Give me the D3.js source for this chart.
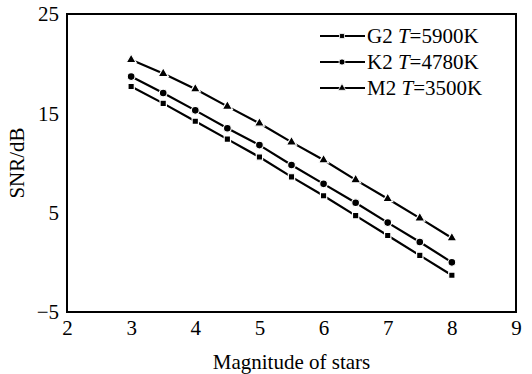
<!DOCTYPE html>
<html>
<head>
<meta charset="utf-8">
<script src="https://cdn.jsdelivr.net/npm/d3@7"></script>
<style>
  body { margin: 0; background: #fff; }
  text { font-family: "Liberation Serif", "DejaVu Serif", serif; fill: #000; }
</style>
</head>
<body>
<svg></svg>
<script>
// data
var magnitudes = [3, 3.5, 4, 4.5, 5, 5.5, 6, 6.5, 7, 7.5, 8];
var g2 = [17.7, 16.0, 14.2, 12.4, 10.6, 8.6, 6.7, 4.7, 2.7, 0.7, -1.3];
var k2 = [18.7, 17.05, 15.3, 13.5, 11.8, 9.8, 7.9, 6.0, 4.0, 2.05, 0.0];
var m2 = [20.4, 19.0, 17.45, 15.7, 14.0, 12.1, 10.3, 8.3, 6.4, 4.45, 2.45];
var seriesNames = ["G2", "K2", "M2"];
var seriesTemps = ["5900K", "4780K", "3500K"];
var xTicks = [2, 3, 4, 5, 6, 7, 8, 9];
var yTicks = [-5, 5, 15, 25];

var svgWidth = 532;
var svgHeight = 374;
var margin = {left: 67, right: 16, top: 14, bottom: 62};
var fontSize = "21px";

var svg = d3.select("svg")
   .attr("width", svgWidth)
   .attr("height", svgHeight);

var x = d3.scaleLinear().domain([2, 9]).range([margin.left, svgWidth - margin.right]);
var y = d3.scaleLinear().domain([-5, 25]).range([svgHeight - margin.bottom, margin.top]);

// frame
svg.append("rect")
   .attr("x", x(2)).attr("y", y(25))
   .attr("width", x(9) - x(2)).attr("height", y(-5) - y(25))
   .attr("fill", "none").attr("stroke", "#000").attr("stroke-width", 2);

// axes (labels only, no tick marks)
svg.append("g")
   .attr("transform", "translate(0," + y(-5) + ")")
   .call(d3.axisBottom(x).tickValues(xTicks).tickSize(0).tickPadding(8).tickFormat(d3.format("d")));
svg.append("g")
   .attr("transform", "translate(" + x(2) + ",0)")
   .call(d3.axisLeft(y).tickValues(yTicks).tickSize(0).tickPadding(8)
      .tickFormat(function(d) { return d < 0 ? "\u2212" + Math.abs(d) : d; }));
svg.selectAll(".domain").remove();
svg.selectAll(".tick text")
   .style("font-family", "Liberation Serif")
   .style("font-size", fontSize);

svg.append("text")
   .attr("x", (x(2) + x(9)) / 2).attr("y", 369)
   .attr("text-anchor", "middle")
   .style("font-size", fontSize)
   .text("Magnitude of stars");

svg.append("text")
   .attr("transform", "translate(24," + ((y(-5) + y(25)) / 2) + ") rotate(-90)")
   .attr("text-anchor", "middle")
   .style("font-size", fontSize)
   .text("SNR/dB");

var symbols = [d3.symbolSquare, d3.symbolCircle, d3.symbolTriangle];
var symSizes = [40, 48, 44];
var allSeries = [g2, k2, m2];

var line = d3.line()
   .x(function(d) { return x(d[0]); })
   .y(function(d) { return y(d[1]); });

allSeries.forEach(function(vals, s) {
   var pts = magnitudes.map(function(m, i) { return [m, vals[i]]; });
   svg.append("path")
      .datum(pts)
      .attr("d", line)
      .attr("fill", "none")
      .attr("stroke", "#000")
      .attr("stroke-width", 2.2);
   svg.selectAll(".pt" + s)
      .data(pts)
      .enter()
      .append("path")
      .attr("d", d3.symbol().type(symbols[s]).size(symSizes[s]))
      .attr("transform", function(d) { return "translate(" + x(d[0]) + "," + y(d[1]) + ")"; })
      .attr("fill", "#000")
      .attr("stroke", "#fff")
      .attr("stroke-width", 1.2);
});

// legend
var legend = svg.append("g");
seriesNames.forEach(function(name, s) {
   var ly = 36 + s * 26;
   legend.append("line")
      .attr("x1", 320).attr("x2", 365)
      .attr("y1", ly).attr("y2", ly)
      .attr("stroke", "#000").attr("stroke-width", 2.2);
   legend.append("path")
      .attr("d", d3.symbol().type(symbols[s]).size(symSizes[s] * 0.6))
      .attr("transform", "translate(342," + ly + ")")
      .attr("fill", "#000").attr("stroke", "#fff").attr("stroke-width", 0.8);
   var t = legend.append("text")
      .attr("x", 367).attr("y", ly + 7)
      .style("font-size", fontSize);
   t.append("tspan").text(name + " ");
   t.append("tspan").style("font-style", "italic").text("T");
   t.append("tspan").text("=" + seriesTemps[s]);
});
</script>
</body>
</html>
